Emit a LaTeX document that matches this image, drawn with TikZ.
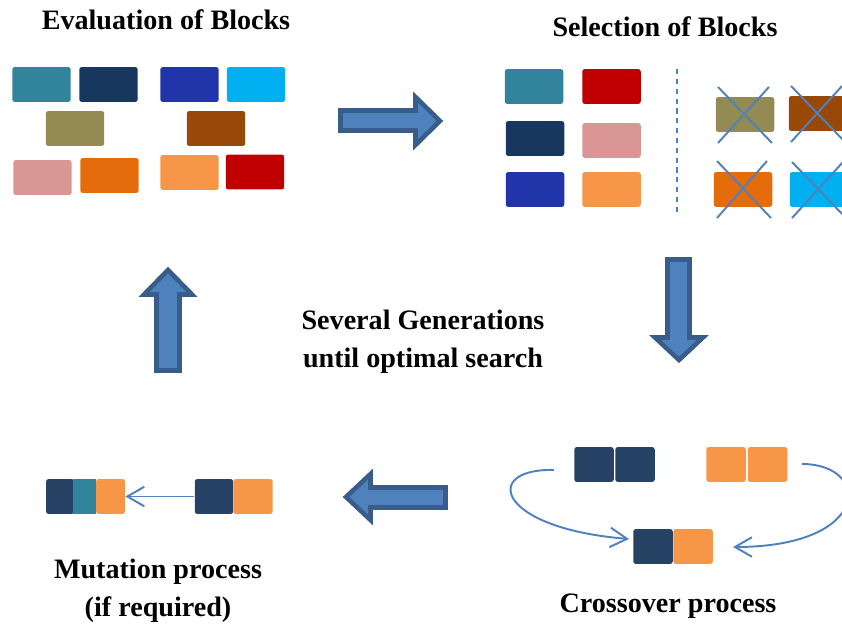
\documentclass[tikz,border=0pt]{standalone}
\usepackage{fontspec}
\setmainfont{Liberation Serif}
\usetikzlibrary{arrows.meta}
\definecolor{cteal}{HTML}{31849B}
\definecolor{cnavy}{HTML}{17375E}
\definecolor{cblue}{HTML}{2234AA}
\definecolor{ccyan}{HTML}{00B0F0}
\definecolor{colive}{HTML}{948A54}
\definecolor{cbrown}{HTML}{984807}
\definecolor{cpink}{HTML}{D99694}
\definecolor{corange}{HTML}{E46C0A}
\definecolor{clorange}{HTML}{F79646}
\definecolor{cred}{HTML}{C00000}
\definecolor{cnavyb}{HTML}{264365}
\definecolor{afill}{HTML}{4F81BD}
\definecolor{aline}{HTML}{385D8A}
\begin{document}
\begin{tikzpicture}[x=0.02cm,y=-0.02cm,
  blk/.style={fill=#1, draw=none, rounded corners=1.5pt, minimum width=1.17cm, minimum height=0.70cm, inner sep=0pt},
  sq/.style={fill=#1, draw=none, rounded corners=1.5pt, minimum width=0.79cm, minimum height=0.70cm, inner sep=0pt},
  bigarrow/.style={fill=afill, draw=aline, line width=2.6pt, line join=miter},
  conn/.style={draw=afill, line width=1.1pt, -{Straight Barb[length=3.4mm,width=3.9mm,line width=1.1pt]}},
  xline/.style={draw=afill, line width=1.1pt},
  lbl/.style={font=\fontsize{16}{19}\selectfont\bfseries, inner sep=0pt, align=center}]
\useasboundingbox (0,0) rectangle (842,628);
\clip (0,0) rectangle (842,628);
% titles
\node[lbl] (t1) at (166,20) {Evaluation of Blocks};
\node[lbl] (t2) at (665,27) {Selection of Blocks};
\node[lbl] (t3) at (423,342) {Several Generations\\[2.5pt]until optimal search};
\node[lbl] (t4) at (158,591) {Mutation process\\[2.5pt](if required)};
\node[lbl] (t5) at (668,606) {Crossover process};
% evaluation blocks
\node[blk=cteal] (e1) at (41.5,84.5) {};
\node[blk=cnavy] (e2) at (108.5,84.5) {};
\node[blk=cblue] (e3) at (189.5,84.5) {};
\node[blk=ccyan] (e4) at (256,84.5) {};
\node[blk=colive] (e5) at (75,128.5) {};
\node[blk=cbrown] (e6) at (216,128.5) {};
\node[blk=cpink] (e7) at (42.5,177.5) {};
\node[blk=corange] (e8) at (109.5,175.5) {};
\node[blk=clorange] (e9) at (189.5,172.5) {};
\node[blk=cred] (e10) at (255,172) {};
% selection blocks
\node[blk=cteal] (s1) at (534,86.5) {};
\node[blk=cred] (s2) at (611.5,86.5) {};
\node[blk=cnavy] (s3) at (535,138.5) {};
\node[blk=cpink] (s4) at (611.5,140.5) {};
\node[blk=cblue] (s5) at (535,189.5) {};
\node[blk=clorange] (s6) at (611.5,189.5) {};
\coordinate (d1) at (677,69);
\coordinate (d2) at (677,213);
\draw[afill, line width=1.2pt, dash pattern=on 3pt off 2.6pt] (d1) -- (d2);
% rejected blocks
\node[blk=colive] (r1) at (745,114.5) {};
\node[blk=cbrown] (r2) at (818,113.5) {};
\node[blk=corange] (r3) at (743,189.5) {};
\node[blk=ccyan] (r4) at (819,189.5) {};
\draw[xline] (718,87) -- (772,143) (769,87) -- (718,143);
\draw[xline] (791,86) -- (845,142) (842,86) -- (791,142);
\draw[xline] (717,161) -- (771,218) (767,161) -- (717,218);
\draw[xline] (792,162) -- (846,218) (843,162) -- (792,218);
% big arrows
\draw[bigarrow] (340.5,110.5) -- (415.5,110.5) -- (415.5,97) -- (440,121) -- (415.5,145) -- (415.5,130.5) -- (340.5,130.5) -- cycle;
\draw[bigarrow] (168,270) -- (192,294.5) -- (179.5,294.5) -- (179.5,370.5) -- (156.5,370.5) -- (156.5,294.5) -- (144,294.5) -- cycle;
\draw[bigarrow] (667.5,259.5) -- (689.5,259.5) -- (689.5,337.5) -- (703,337.5) -- (679,360) -- (655,337.5) -- (667.5,337.5) -- cycle;
\draw[bigarrow] (346,497) -- (370.5,474) -- (370.5,487.5) -- (445.5,487.5) -- (445.5,507.5) -- (370.5,507.5) -- (370.5,520) -- cycle;
% mutation
\node[fill=cnavyb, rounded corners=1.5pt, minimum width=0.56cm, minimum height=0.70cm, inner sep=0pt] (m1) at (60,496.5) {};
\node[fill=cteal, minimum width=0.46cm, minimum height=0.70cm, inner sep=0pt] (m2) at (84.5,496.5) {};
\node[fill=clorange, rounded corners=1.5pt, minimum width=0.58cm, minimum height=0.70cm, inner sep=0pt] (m3) at (110.5,496.5) {};
\node[fill=cnavyb, rounded corners=1.5pt, minimum width=0.77cm, minimum height=0.70cm, inner sep=0pt] (m4) at (214,496.5) {};
\node[fill=clorange, rounded corners=1.5pt, minimum width=0.79cm, minimum height=0.70cm, inner sep=0pt] (m5) at (253,496.5) {};
\draw[conn, line width=1pt] (m4.west) -- (m3.east);
% crossover
\node[sq=cnavyb] (c1) at (594,464.5) {};
\node[sq=cnavyb] (c2) at (635,464.5) {};
\node[sq=clorange] (c3) at (726,464.5) {};
\node[sq=clorange] (c4) at (767.5,464.5) {};
\node[sq=cnavyb] (c5) at (653,546.5) {};
\node[sq=clorange] (c6) at (693,546.5) {};
\coordinate (cl) at (554,470);
\coordinate (cr) at (802,464);
\coordinate (el) at (629,539);
\coordinate (er) at (733,547);
\draw[conn] (cl) .. controls (482,468) and (495,528) .. (el);
\draw[conn] (cr) .. controls (872,464) and (872,547) .. (er);
\end{tikzpicture}
\end{document}
